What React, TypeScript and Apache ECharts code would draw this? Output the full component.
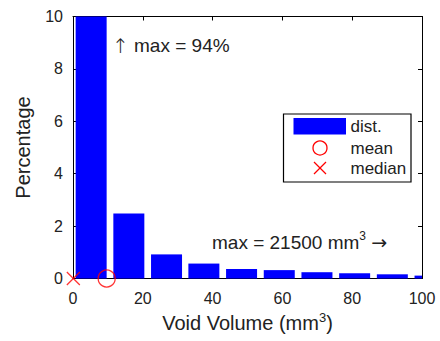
import React, { useEffect, useRef } from "react";
import * as echarts from "echarts";

const binCenters = [5.2, 16.0, 26.8, 37.5, 48.3, 59.1, 69.9, 80.7, 91.5, 102.3];
const percentages = [94, 2.48, 0.92, 0.57, 0.36, 0.32, 0.24, 0.2, 0.16, 0.11];
const meanValue = 9.65;
const medianValue = 0.1;
const xTicks = [0, 20, 40, 60, 80, 100];
const yTicks = [0, 2, 4, 6, 8, 10];
const legendLabels = ["dist.", "mean", "median"];
const maxPctLabel = "{arr|\u2191} max = 94%";
const maxVolLabel = "max = 21500 mm{sup|3} {arr|\u2192}";
const xName = "Void Volume (mm{sup|3})";
const yName = "Percentage";

const FONT = "'Liberation Sans', Arial, Helvetica, sans-serif";
const TXT = "#222";

export default function App() {
  const ref = useRef<HTMLDivElement>(null);
  useEffect(() => {
    document.body.style.margin = "0";
    const chart = echarts.init(ref.current!, null, { renderer: "svg" });
    const axisCommon = {
      axisLine: { show: true, onZero: false, lineStyle: { color: "#000", width: 1 } },
      axisTick: { show: true, inside: true, length: 4, lineStyle: { color: "#000" } },
      splitLine: { show: false },
    };
    const xMin = xTicks[0];
    const xMax = xTicks[xTicks.length - 1];
    const xInt = xTicks[1] - xTicks[0];
    const yMin = yTicks[0];
    const yMax = yTicks[yTicks.length - 1];
    const yInt = yTicks[1] - yTicks[0];
    chart.setOption({
      animation: false,
      grid: { left: 73, right: 18, top: 16.5, bottom: 62.5 },
      xAxis: [
        {
          type: "value", min: xMin, max: xMax, interval: xInt, position: "bottom",
          ...axisCommon,
          axisLabel: { color: TXT, fontSize: 16, fontFamily: FONT, margin: 12 },
          name: xName, nameLocation: "middle", nameGap: 31,
          nameTextStyle: {
            color: TXT, fontSize: 20, fontFamily: FONT, lineHeight: 24,
            rich: { sup: { fontSize: 13, fontFamily: FONT, color: TXT, verticalAlign: "top", lineHeight: 24 } },
          },
        },
        {
          type: "value", min: xMin, max: xMax, interval: xInt, position: "top",
          ...axisCommon, axisLabel: { show: false },
        },
      ],
      yAxis: [
        {
          type: "value", min: yMin, max: yMax, interval: yInt, position: "left",
          ...axisCommon,
          axisLabel: { color: TXT, fontSize: 16, fontFamily: FONT, margin: 10 },
          name: yName, nameLocation: "middle", nameGap: 40,
          nameTextStyle: { color: TXT, fontSize: 20, fontFamily: FONT },
        },
        {
          type: "value", min: yMin, max: yMax, interval: yInt, position: "right",
          ...axisCommon, axisLabel: { show: false },
        },
      ],
      series: [
        {
          type: "custom",
          data: binCenters.map((c, i) => [c, percentages[i]]),
          renderItem: (params: any, api: any) => {
            const c = api.value(0);
            const v = api.value(1);
            const p0 = api.coord([c, 0]);
            const p1 = api.coord([c, v]);
            const w = 31;
            const cs = params.coordSys;
            const rect = echarts.graphic.clipRectByRect(
              { x: p0[0] - w / 2, y: p1[1], width: w, height: p0[1] - p1[1] },
              { x: cs.x, y: cs.y, width: cs.width, height: cs.height }
            );
            if (!rect) return null;
            return { type: "rect", shape: rect, style: { fill: "#0000ff" } };
          },
          z: 2,
        },
        {
          type: "scatter",
          data: [[meanValue, 0]],
          symbol: "circle",
          symbolSize: 17,
          clip: false,
          itemStyle: { color: "rgba(0,0,0,0)", borderColor: "#ff0000", borderWidth: 1.3 },
          z: 5,
        },
        {
          type: "scatter",
          data: [[medianValue, 0]],
          symbol: "path://M0,0L10,10M10,0L0,10",
          symbolSize: 13,
          clip: false,
          itemStyle: { color: "rgba(0,0,0,0)", borderColor: "#ff0000", borderWidth: 1.3 },
          z: 5,
        },
      ],
      graphic: [
        {
          type: "text", x: 112, y: 45.5,
          style: {
            text: maxPctLabel, fill: TXT, font: `19px ${FONT}`, verticalAlign: "middle",
            rich: { arr: { fontSize: 20, fontFamily: "'DejaVu Sans', sans-serif", fontWeight: 200, color: TXT } },
          },
        },
        {
          type: "text", x: 212, y: 242,
          style: {
            text: maxVolLabel, fill: TXT, font: `19px ${FONT}`, verticalAlign: "middle", lineHeight: 24,
            rich: {
              sup: { fontSize: 12, fontFamily: FONT, color: TXT, verticalAlign: "top", lineHeight: 24 },
              arr: { fontSize: 19, fontFamily: "'DejaVu Sans', sans-serif", color: TXT, lineHeight: 24 },
            },
          },
        },
        {
          type: "group", x: 283.5, y: 114,
          children: [
            { type: "rect", shape: { x: 0, y: 0, width: 127.5, height: 68 }, style: { fill: "#fff", stroke: "#000", lineWidth: 1.2 } },
            { type: "rect", shape: { x: 10, y: 4, width: 52.5, height: 16.5 }, style: { fill: "#0000ff" } },
            { type: "circle", shape: { cx: 36.5, cy: 34, r: 7 }, style: { fill: "none", stroke: "#ff0000", lineWidth: 1.3 } },
            { type: "line", shape: { x1: 30.5, y1: 48, x2: 42.5, y2: 60 }, style: { stroke: "#ff0000", lineWidth: 1.3 } },
            { type: "line", shape: { x1: 42.5, y1: 48, x2: 30.5, y2: 60 }, style: { stroke: "#ff0000", lineWidth: 1.3 } },
            { type: "text", x: 67, y: 12.5, style: { text: legendLabels[0], fill: TXT, font: `17px ${FONT}`, verticalAlign: "middle" } },
            { type: "text", x: 67, y: 34, style: { text: legendLabels[1], fill: TXT, font: `17px ${FONT}`, verticalAlign: "middle" } },
            { type: "text", x: 67, y: 54.5, style: { text: legendLabels[2], fill: TXT, font: `17px ${FONT}`, verticalAlign: "middle" } },
          ],
        },
      ],
    });
    return () => chart.dispose();
  }, []);
  return <div ref={ref} style={{ width: 440, height: 341 }} />;
}
